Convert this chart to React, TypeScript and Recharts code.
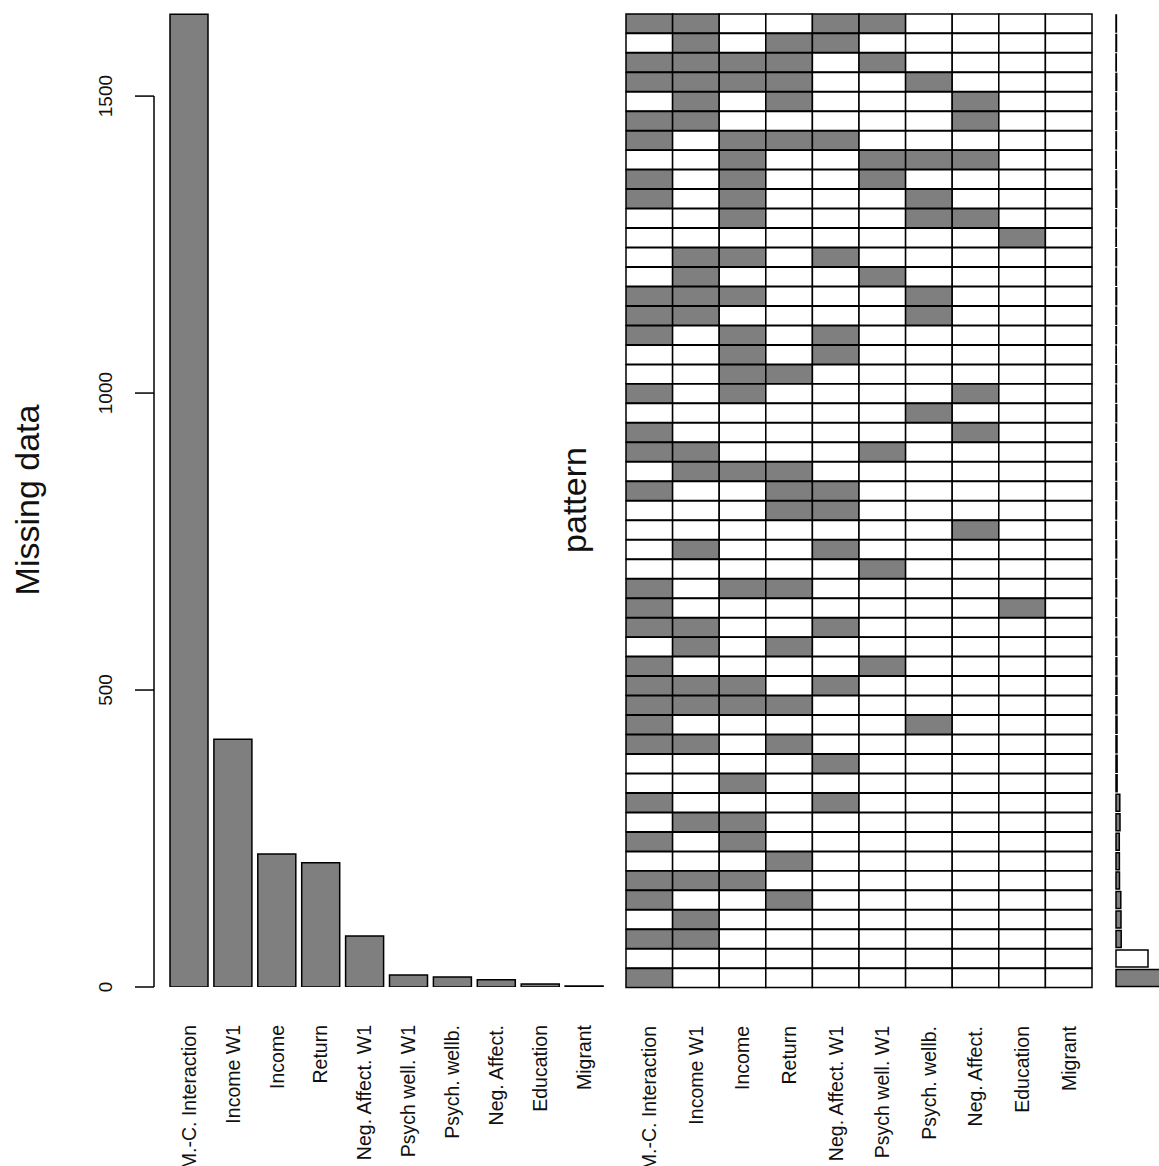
import { Bar, BarChart, Cell, XAxis, YAxis } from 'recharts'

const VARIABLES = [
  'M.-C. Interaction',
  'Income W1',
  'Income',
  'Return',
  'Neg. Affect. W1',
  'Psych well. W1',
  'Psych. wellb.',
  'Neg. Affect.',
  'Education',
  'Migrant',
]
const MISSING = [1638, 417, 224, 209, 86, 20, 17, 12, 5, 0]
const Y_TICKS = [0, 500, 1000, 1500]

// one string per missingness pattern, top row first; '1' = missing
const PATTERNS = [
  '1100110000', '0101100000', '1111010000', '1111001000', '0101000100',
  '1100000100', '1011100000', '0010011100', '1010010000', '1010001000',
  '0010001100', '0000000010', '0110100000', '0100010000', '1110001000',
  '1100001000', '1010100000', '0010100000', '0011000000', '1010000100',
  '0000001000', '1000000100', '1100010000', '0111000000', '1001100000',
  '0001100000', '0000000100', '0100100000', '0000010000', '1011000000',
  '1000000010', '1100100000', '0101000000', '1000010000', '1110100000',
  '1111000000', '1000001000', '1101000000', '0000100000', '0010000000',
  '1000100000', '0110000000', '1010000000', '0001000000', '1110000000',
  '1001000000', '0100000000', '1100000000', '0000000000', '1000000000',
]
const FREQ = [
  4, 5, 3, 6, 4, 5, 4, 3, 5, 6, 4, 3, 5, 4, 6, 5, 4,
  3, 5, 4, 6, 5, 4, 5, 6, 5, 4, 6, 5, 6, 5, 6, 7,
  8, 9, 9, 10, 10, 11, 11, 38, 40, 33, 34, 35, 48, 50, 52, 320, 1290,
]

const GRAY = '#7f7f7f'
const INK = '#111'
const FONT = "'Liberation Sans', Arial, sans-serif"
const Y_MAX = 1650
const LEFT_TOP = 7
const LEFT_BOTTOM = 987

const leftData = VARIABLES.map((name, i) => ({ name, missing: MISSING[i] }))
const patternData = PATTERNS.map((p, r) => ({
  row: r + 1,
  ...Object.fromEntries(VARIABLES.map((_, c) => [`c${c}`, 1])),
}))
const freqData = PATTERNS.map((p, r) => ({ row: r + 1, freq: FREQ[r], complete: !p.includes('1') }))

function NameTick({ x, y, payload }: any) {
  const label = typeof payload.value === 'number' ? VARIABLES[Math.floor(payload.value)] : payload.value
  return (
    <text
      transform={`translate(${x},${y + 38}) rotate(-90)`}
      textAnchor="end"
      dy="0.35em"
      fontSize={19.5}
      fontFamily={FONT}
      fill={INK}
    >
      {label}
    </text>
  )
}

function YTick({ x, y, payload }: any) {
  const v = payload.value
  const step = (500 * (LEFT_BOTTOM - LEFT_TOP)) / Y_MAX
  return (
    <g>
      <line x1={x - 19} x2={x} y1={y} y2={y} stroke="#000" strokeWidth={1.5} />
      {v > 0 && <line x1={x} x2={x} y1={y} y2={y + step} stroke="#000" strokeWidth={1.5} />}
      <text
        transform={`translate(${x - 49},${y}) rotate(-90)`}
        textAnchor="middle"
        dy="0.35em"
        fontSize={19}
        fontFamily={FONT}
        fill={INK}
      >
        {v}
      </text>
    </g>
  )
}

function AxisTitle({ left, title }: { left: number; title: string }) {
  return (
    <text
      transform={`translate(${left},500) rotate(-90)`}
      textAnchor="middle"
      dy="0.35em"
      fontSize={34}
      fontFamily={FONT}
      fill={INK}
    >
      {title}
    </text>
  )
}

export default function App() {
  return (
    <div
      style={{
        position: 'absolute',
        left: 0,
        top: 0,
        width: 1159,
        height: 1166,
        overflow: 'hidden',
        background: '#fff',
      }}
    >
      <div style={{ position: 'absolute', left: 0, top: 0 }}>
        <BarChart width={620} height={1166} data={leftData} margin={{ top: LEFT_TOP, right: 14, bottom: 0, left: 0 }}>
          <XAxis
            dataKey="name"
            type="category"
            height={1166 - LEFT_BOTTOM}
            padding={{ left: 13, right: 0 }}
            axisLine={false}
            tickLine={false}
            tickSize={0}
            tickMargin={0}
            interval={0}
            tick={<NameTick />}
          />
          <YAxis
            width={154}
            domain={[0, Y_MAX]}
            ticks={Y_TICKS}
            allowDataOverflow
            axisLine={false}
            tickLine={false}
            tickSize={0}
            tickMargin={0}
            tick={<YTick />}
            label={<AxisTitle left={27} title="Missing data" />}
          />
          <Bar
            dataKey="missing"
            fill={GRAY}
            stroke="#000"
            strokeWidth={1.5}
            barSize={38}
            minPointSize={1}
            isAnimationActive={false}
          />
        </BarChart>
      </div>

      <div style={{ position: 'absolute', left: 540, top: 0 }}>
        <BarChart
          width={560}
          height={1166}
          data={patternData}
          layout="vertical"
          barCategoryGap={0}
          margin={{ top: 14, right: 8, bottom: 0, left: 85 }}
        >
          <XAxis
            type="number"
            domain={[0, 10]}
            ticks={VARIABLES.map((_, i) => i + 0.5)}
            height={178}
            axisLine={false}
            tickLine={false}
            tickSize={0}
            tickMargin={0}
            interval={0}
            tick={<NameTick />}
          />
          <YAxis
            type="category"
            dataKey="row"
            width={1}
            tick={false}
            axisLine={false}
            tickLine={false}
            label={<AxisTitle left={34} title="pattern" />}
          />
          {VARIABLES.map((_, c) => (
            <Bar key={c} dataKey={`c${c}`} stackId="p" stroke="#000" strokeWidth={1.5} isAnimationActive={false}>
              {PATTERNS.map((p, r) => (
                <Cell key={r} fill={p[c] === '1' ? GRAY : '#fff'} />
              ))}
            </Bar>
          ))}
        </BarChart>
      </div>

      <div style={{ position: 'absolute', left: 1106, top: 0 }}>
        <BarChart
          width={410}
          height={1166}
          data={freqData}
          layout="vertical"
          barCategoryGap={1}
          margin={{ top: 14, right: 0, bottom: 178, left: 10 }}
        >
          <XAxis type="number" domain={[0, 4000]} hide />
          <YAxis type="category" dataKey="row" hide />
          <Bar dataKey="freq" stroke="#000" strokeWidth={1.5} isAnimationActive={false}>
            {freqData.map((d) => (
              <Cell key={d.row} fill={d.complete ? '#fff' : GRAY} />
            ))}
          </Bar>
        </BarChart>
      </div>
    </div>
  )
}
